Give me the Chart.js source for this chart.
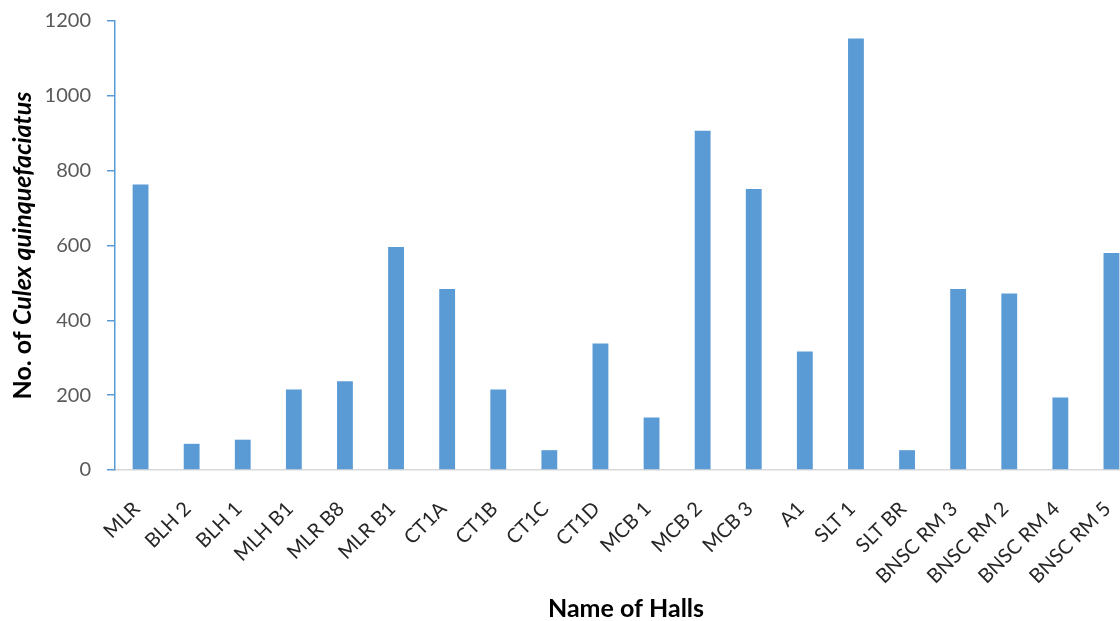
<!DOCTYPE html>
<html>
<head>
<meta charset="utf-8">
<script src="https://cdn.jsdelivr.net/npm/chart.js@4"></script>
<style>
  html, body { margin: 0; padding: 0; background: #fff; overflow: hidden; }
  #wrap { width: 1140px; height: 621px; position: relative; }
</style>
</head>
<body>
<div id="wrap"><canvas id="chart"></canvas></div>
<script>
// Halls surveyed and mosquito counts per hall
const halls = ["MLR", "BLH 2", "BLH 1", "MLH B1", "MLR B8", "MLR B1", "CT1A", "CT1B", "CT1C", "CT1D",
               "MCB 1", "MCB 2", "MCB 3", "A1", "SLT 1", "SLT BR", "BNSC RM 3", "BNSC RM 2", "BNSC RM 4", "BNSC RM 5"];
const culexCounts = [763, 70, 81, 215, 237, 596, 484, 215, 53, 338,
                     140, 907, 751, 317, 1153, 53, 484, 472, 194, 580];
const yMin = 0, yMax = 1200, yStep = 200;

const xTitle = "Name of Halls";
const yTitleParts = [
  { text: "No. of ", italic: false },
  { text: "Culex quinquefaciatus", italic: true }
];

const FONT = "Lato, 'Open Sans', sans-serif";

// Axis titles: the y title mixes upright and italic runs, so both are drawn here
const axisTitles = {
  id: "axisTitles",
  afterDraw(chart) {
    const ctx = chart.ctx;
    const area = chart.chartArea;
    ctx.save();
    ctx.fillStyle = "#000";

    // x title
    ctx.font = "bold 25px " + FONT;
    ctx.textAlign = "center";
    ctx.textBaseline = "alphabetic";
    ctx.fillText(xTitle, (area.left + area.right) / 2, 617);

    // y title, rotated
    ctx.textBaseline = "middle";
    const fontFor = p => (p.italic ? "italic " : "") + "bold 25px " + FONT;
    let total = 0;
    const widths = yTitleParts.map(p => { ctx.font = fontFor(p); const w = ctx.measureText(p.text).width; total += w; return w; });
    ctx.translate(23, (area.top + area.bottom) / 2);
    ctx.rotate(-Math.PI / 2);
    ctx.textAlign = "left";
    let x = -total / 2;
    yTitleParts.forEach((p, i) => { ctx.font = fontFor(p); ctx.fillText(p.text, x, 0); x += widths[i]; });
    ctx.restore();
  }
};

new Chart(document.getElementById("chart"), {
  type: "bar",
  data: {
    labels: halls,
    datasets: [{
      data: culexCounts,
      backgroundColor: "#5b9bd5",
      borderWidth: 0,
      barPercentage: 0.31,
      categoryPercentage: 1.0
    }]
  },
  plugins: [axisTitles],
  options: {
    responsive: true,
    maintainAspectRatio: false,
    animation: false,
    layout: { padding: { top: 21, right: 3, left: 0, bottom: 0 } },
    plugins: { legend: { display: false }, tooltip: { enabled: false } },
    scales: {
      x: {
        afterFit: s => { s.height = 151; s.paddingLeft = 0; s.paddingRight = 0; },
        grid: { display: false, drawTicks: false },
        border: { display: true, color: "#d9d9d9", width: 1.5 },
        ticks: {
          autoSkip: false,
          minRotation: 45,
          maxRotation: 45,
          padding: 27,
          labelOffset: -4,
          color: "#262626",
          font: { family: FONT, size: 20 }
        }
      },
      y: {
        min: yMin,
        max: yMax,
        afterFit: s => { s.width = 115; s.paddingTop = 0; s.paddingBottom = 0; },
        grid: { drawOnChartArea: false, drawTicks: true, tickLength: 8, color: "#5b9bd5", lineWidth: 1.5 },
        border: { display: true, color: "#5b9bd5", width: 1.5 },
        ticks: {
          stepSize: yStep,
          padding: 16,
          color: "#595959",
          font: { family: FONT, size: 20 },
          callback: v => String(v)
        }
      }
    }
  }
});
</script>
</body>
</html>
